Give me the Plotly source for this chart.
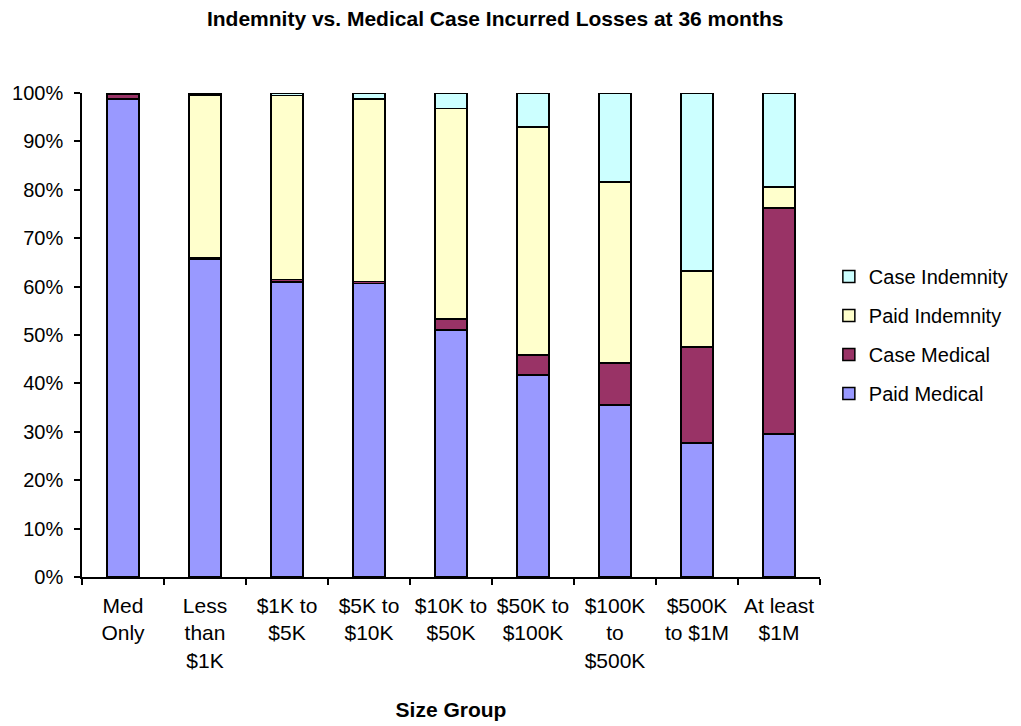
import plotly.graph_objects as go

categories = ["Med<br>Only", "Less<br>than<br>$1K", "$1K to<br>$5K", "$5K to<br>$10K",
              "$10K to<br>$50K", "$50K to<br>$100K", "$100K<br>to<br>$500K",
              "$500K<br>to $1M", "At least<br>$1M"]
paid_medical = [98.8, 65.7, 61.0, 60.6, 51.0, 41.7, 35.5, 27.7, 29.5]
case_medical = [0.9, 0.3, 0.5, 0.5, 2.3, 4.2, 8.7, 19.8, 46.7]
paid_indemnity = [0.15, 33.6, 38.0, 37.7, 43.5, 47.1, 37.4, 15.7, 4.4]
case_indemnity = [0.15, 0.4, 0.5, 1.2, 3.2, 7.0, 18.4, 36.8, 19.4]
y_tickvals = [0, 10, 20, 30, 40, 50, 60, 70, 80, 90, 100]
y_ticktext = [f"{v}%" for v in y_tickvals]

series = [
    ("Paid Medical", paid_medical, "#9999FF"),
    ("Case Medical", case_medical, "#993366"),
    ("Paid Indemnity", paid_indemnity, "#FFFFCC"),
    ("Case Indemnity", case_indemnity, "#CCFFFF"),
]

FONT = "Liberation Sans, Arial, sans-serif"
fig = go.Figure()
for i, (name, vals, color) in enumerate(series):
    fig.add_trace(go.Bar(
        x=categories, y=vals, name=name, width=0.39, legendgroup=name,
        legendrank=1000 - i,
        marker=dict(color=color, line=dict(color="black", width=1.5)),
    ))

fig.update_layout(
    barmode="stack",
    width=1021, height=726,
    margin=dict(l=82, r=201, t=93, b=149, autoexpand=False),
    paper_bgcolor="white", plot_bgcolor="white",
    font=dict(family=FONT, size=20, color="black"),
    title=dict(text="<b>Indemnity vs. Medical Case Incurred Losses at 36 months</b>",
               x=0.485, xanchor="center", y=0.975, yanchor="middle",
               font=dict(family=FONT, size=21, color="black")),
    legend=dict(x=1.012, xanchor="left", y=0.5, yanchor="middle",
                traceorder="grouped", tracegroupgap=10,
                font=dict(size=20)),
    xaxis=dict(showline=True, linecolor="black", linewidth=1.5,
               ticks="outside", tickson="boundaries", ticklen=6, tickcolor="black",
               tickwidth=1.5, tickangle=0, ticklabelstandoff=9,
               tickfont=dict(size=21), automargin=False,
               title=dict(text="<b>Size Group</b>", standoff=32,
                          font=dict(size=21))),
    yaxis=dict(range=[0, 100], tickvals=y_tickvals, ticktext=y_ticktext,
               showline=True, linecolor="black", linewidth=1.5,
               ticks="outside", ticklen=6, tickcolor="black", tickwidth=1.5,
               ticklabelstandoff=7, automargin=False,
               showgrid=False, zeroline=False),
)

fig.write_html("out.html")
